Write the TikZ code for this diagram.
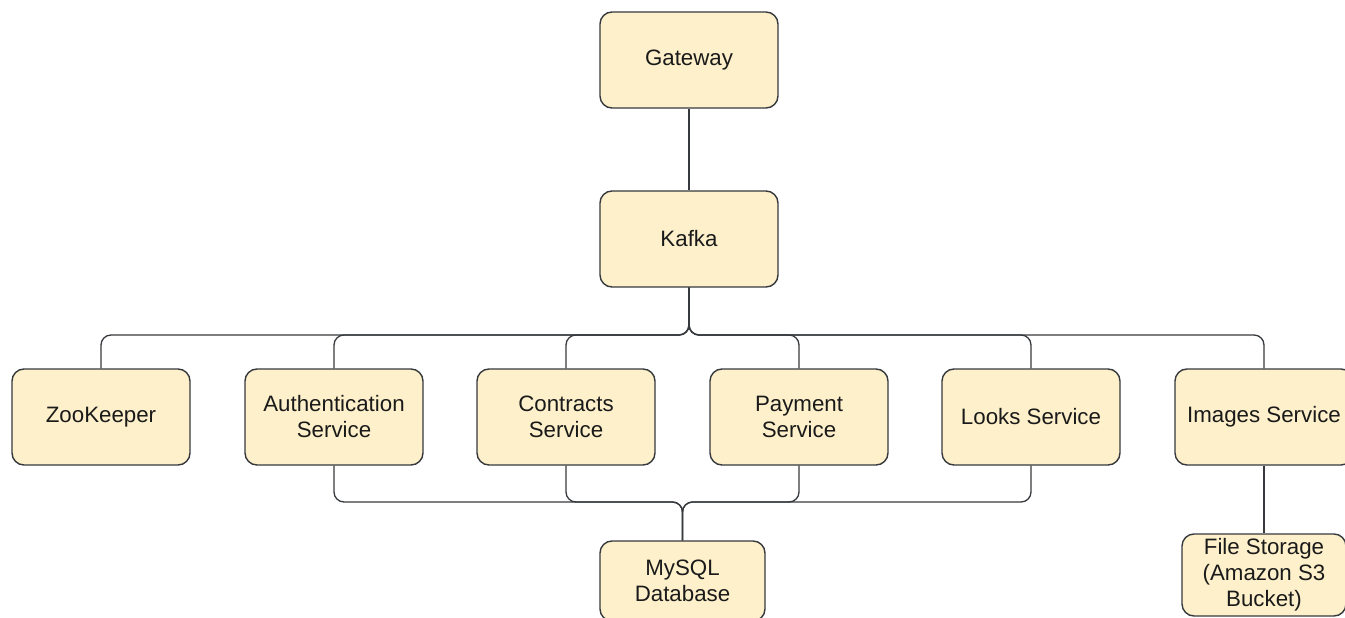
\documentclass[tikz,border=0pt]{standalone}
\usepackage{fontspec}
\setmainfont{Liberation Sans}
\definecolor{boxfill}{HTML}{FDF0CA}
\definecolor{boxline}{HTML}{36393D}
\definecolor{txt}{HTML}{1A1A1A}
\begin{document}
\begin{tikzpicture}[x=1pt,y=-1pt,
  svc/.style={draw=boxline, fill=boxfill, line width=1.4pt, rounded corners=12pt,
    minimum width=178pt, minimum height=96pt, align=center, inner sep=2pt,
    text=txt, font=\fontsize{22.3}{26}\selectfont},
  conn/.style={draw=boxline, line width=1.3pt, rounded corners=10pt}]
\clip (0,0) rectangle (1345,618);
\fill[white] (0,0) rectangle (1345,618);
\node[svc] (gateway) at (689,60) {Gateway};
\node[svc] (kafka) at (689,239) {Kafka};
\node[svc] (zoo) at (101,417) {ZooKeeper};
\node[svc] (auth) at (334,417) {Authentication\\Service};
\node[svc] (contracts) at (566,417) {Contracts\\Service};
\node[svc] (payment) at (799,417) {Payment\\Service};
\node[svc] (looks) at (1031,417) {Looks Service};
\node[svc] (images) at (1264,417) {Images Service};
\node[svc, minimum width=165pt, minimum height=80pt] (mysql) at (682.5,581) {MySQL\\Database};
\node[svc, minimum width=164pt, minimum height=82pt] (files) at (1264,575) {File Storage\\(Amazon S3\\Bucket)};
\draw[conn] (gateway) -- (kafka);
\foreach \s in {zoo,auth,contracts,payment,looks,images}{
  \draw[conn] (kafka.south) -- (kafka.south |- 0,335) -| (\s.north);
}
\foreach \s in {auth,contracts,payment,looks}{
  \draw[conn] (\s.south) -- (\s.south |- 0,502) -| (mysql.north);
}
\draw[conn] (images) -- (files);
\end{tikzpicture}
\end{document}
